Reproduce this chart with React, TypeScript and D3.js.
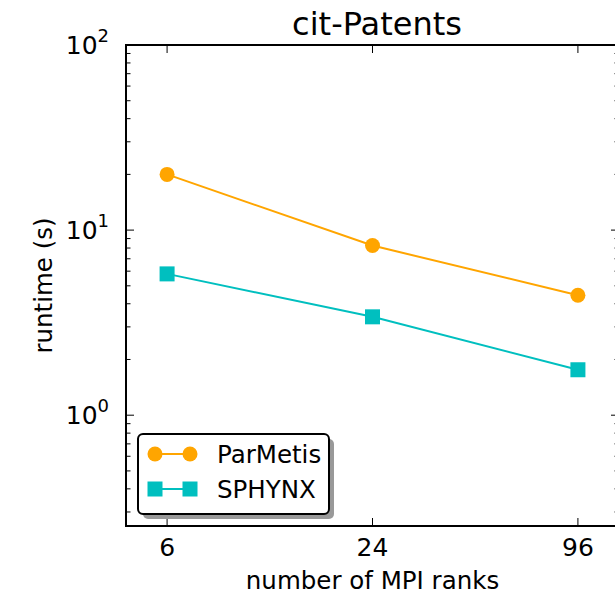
import React from "react";
import * as d3 from "d3";

const ranks = [6, 24, 96];
const parmetis = [20, 8.25, 4.45];
const sphynx = [5.8, 3.4, 1.76];
const yMajor = [1, 10, 100];
const yMajorExp = ["0", "1", "2"];
const seriesNames = ["ParMetis", "SPHYNX"];
const seriesColors = ["#FFA500", "#00BFBF"];

const W = 615;
const H = 593;
const M = { left: 126, right: 619, top: 45, bottom: 526 };
const FONT = "DejaVu Sans, sans-serif";

export default function App() {
  const x = d3
    .scaleLog()
    .base(2)
    .domain([6 / Math.pow(2, 0.4), 96 * Math.pow(2, 0.4)])
    .range([M.left, M.right]);
  const y = d3.scaleLog().domain([0.252, 100]).range([M.bottom, M.top]);

  const minor: number[] = [];
  [0.1, 1, 10].forEach((d) => {
    for (let k = 2; k <= 9; k++) {
      const v = d * k;
      if (v >= 0.252 && v < 100) minor.push(v);
    }
  });

  const line = d3
    .line<[number, number]>()
    .x((d) => x(d[0]))
    .y((d) => y(d[1]));

  const data = [parmetis, sphynx];

  const marker = (i: number, cx: number, cy: number, key: string) =>
    i === 0 ? (
      <circle key={key} cx={cx} cy={cy} r={7.5} fill={seriesColors[i]} />
    ) : (
      <rect key={key} x={cx - 7.5} y={cy - 7.5} width={15} height={15} fill={seriesColors[i]} />
    );

  const legX = 138;
  const legY = 434;
  const legW = 191;
  const legH = 80;

  return (
    <svg
      width={W}
      height={H}
      style={{ position: "absolute", left: 0, top: 0, background: "#fff" }}
      fontFamily={FONT}
    >
      <rect x={0} y={0} width={W} height={H} fill="#fff" />
      {/* series */}
      {data.map((vals, i) => (
        <g key={i}>
          <path
            d={line(ranks.map((r, j) => [r, vals[j]]) as [number, number][]) || ""}
            fill="none"
            stroke={seriesColors[i]}
            strokeWidth={2}
          />
          {ranks.map((r, j) => marker(i, x(r), y(vals[j]), `m${i}-${j}`))}
        </g>
      ))}
      {/* y minor ticks */}
      {minor.map((v) => (
        <g key={`mn${v}`}>
          <line x1={M.left} x2={M.left + 4.5} y1={y(v)} y2={y(v)} stroke="#000" strokeWidth={1} />
          <line x1={M.right} x2={M.right - 4.5} y1={y(v)} y2={y(v)} stroke="#000" strokeWidth={1} />
        </g>
      ))}
      {/* y major ticks */}
      {yMajor.map((v, i) => (
        <g key={`mj${v}`}>
          <line x1={M.left} x2={M.left + 8} y1={y(v)} y2={y(v)} stroke="#000" strokeWidth={1} />
          <line x1={M.right} x2={M.right - 8} y1={y(v)} y2={y(v)} stroke="#000" strokeWidth={1} />
          <text x={109} y={y(v) + 9} textAnchor="end" fontSize={25} fill="#000">
            <tspan>10</tspan>
            <tspan dy={-12} fontSize={18}>
              {yMajorExp[i]}
            </tspan>
          </text>
        </g>
      ))}
      {/* x ticks */}
      {ranks.map((r) => (
        <g key={`xt${r}`}>
          <line x1={x(r)} x2={x(r)} y1={M.bottom} y2={M.bottom - 8} stroke="#000" strokeWidth={1} />
          <line x1={x(r)} x2={x(r)} y1={M.top} y2={M.top + 8} stroke="#000" strokeWidth={1} />
          <text x={x(r)} y={556} textAnchor="middle" fontSize={25} fill="#000">
            {r}
          </text>
        </g>
      ))}
      {/* frame */}
      <rect
        x={M.left}
        y={M.top}
        width={M.right - M.left}
        height={M.bottom - M.top}
        fill="none"
        stroke="#000"
        strokeWidth={2}
      />
      {/* legend */}
      <rect x={legX + 5} y={legY + 5} width={legW} height={legH} rx={5} fill="#999" />
      <rect
        x={legX}
        y={legY}
        width={legW}
        height={legH}
        rx={5}
        fill="#fff"
        stroke="#000"
        strokeWidth={2}
      />
      {seriesNames.map((name, i) => {
        const cy = legY + 20 + i * 35;
        return (
          <g key={name}>
            <line x1={155} x2={190} y1={cy} y2={cy} stroke={seriesColors[i]} strokeWidth={2} />
            {marker(i, 155, cy, `l${i}a`)}
            {marker(i, 190, cy, `l${i}b`)}
            <text x={217} y={cy + 9} fontSize={24.5} fill="#000">
              {name}
            </text>
          </g>
        );
      })}
      {/* labels */}
      <text x={377} y={35} textAnchor="middle" fontSize={32} fill="#000">
        cit-Patents
      </text>
      <text x={(M.left + M.right) / 2} y={589} textAnchor="middle" fontSize={24.5} fill="#000">
        number of MPI ranks
      </text>
      <text
        transform={`translate(52, ${(M.top + M.bottom) / 2}) rotate(-90)`}
        textAnchor="middle"
        fontSize={24.5}
        fill="#000"
      >
        runtime (s)
      </text>
    </svg>
  );
}
